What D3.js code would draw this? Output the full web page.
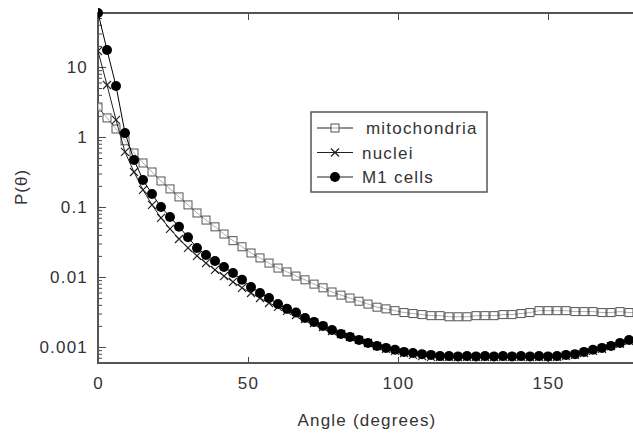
<!DOCTYPE html>
<html>
<head>
<meta charset="utf-8">
<script src="https://cdn.jsdelivr.net/npm/d3@7"></script>
<style>
  body { margin: 0; background: #fff; }
  svg text { font-family: "Liberation Sans", Arial, sans-serif; fill: #333; }
</style>
</head>
<body>
<svg id="chart" width="633" height="434"></svg>
<script>
// angles in degrees, one sample every 3 degrees
const angles = d3.range(0, 181, 3);

const mitochondria = [2.68, 1.87, 1.30, 0.88, 0.59, 0.425, 0.316, 0.235, 0.181, 0.139,
  0.107, 0.082, 0.065, 0.052, 0.041, 0.033, 0.027, 0.022, 0.0187, 0.0158,
  0.0134, 0.0118, 0.0103, 0.0091, 0.0079, 0.0070, 0.0061, 0.0055, 0.0050, 0.0045,
  0.0041, 0.0037, 0.0035, 0.0033, 0.0031, 0.0030, 0.0029, 0.0028, 0.0028, 0.0027,
  0.0027, 0.0027, 0.0028, 0.0028, 0.0028, 0.0029, 0.0029, 0.0030, 0.0031, 0.0033,
  0.0033, 0.0033, 0.0033, 0.0032, 0.0032, 0.0032, 0.0031, 0.0031, 0.0032, 0.0031, 0.0031];

const nuclei = [16.9, 5.53, 1.75, 0.611, 0.316, 0.175, 0.107, 0.0697, 0.0486, 0.0349,
  0.0260, 0.0200, 0.0158, 0.0126, 0.0103, 0.0085, 0.0070, 0.0059, 0.0050, 0.00425,
  0.00373, 0.00327, 0.00286, 0.00251, 0.00220, 0.00193, 0.00169, 0.00153, 0.00139, 0.00126,
  0.00114, 0.00103, 0.00094, 0.00088, 0.00082, 0.00077, 0.00074, 0.00072, 0.00072, 0.00072,
  0.00072, 0.00072, 0.00072, 0.00072, 0.00072, 0.00072, 0.00072, 0.00072, 0.00072, 0.00072,
  0.00072, 0.00072, 0.00074, 0.00077, 0.00082, 0.00088, 0.00094, 0.00103, 0.00111, 0.00122, 0.00136];

const m1cells = [59, 17.5, 5.35, 1.14, 0.47, 0.243, 0.153, 0.100, 0.072, 0.052,
  0.037, 0.026, 0.0206, 0.0169, 0.0139, 0.0114, 0.0091, 0.0072, 0.0059, 0.0050,
  0.0041, 0.0035, 0.0031, 0.0026, 0.00228, 0.0020, 0.00175, 0.00153, 0.00139, 0.00126,
  0.00114, 0.00103, 0.00097, 0.00091, 0.00085, 0.00082, 0.00079, 0.00077, 0.00074, 0.00074,
  0.00073, 0.00074, 0.00073, 0.00074, 0.00073, 0.00074, 0.00073, 0.00074, 0.00073, 0.00074,
  0.00073, 0.00074, 0.00077, 0.00079, 0.00085, 0.00091, 0.00097, 0.00103, 0.00114, 0.00126, 0.00139];

const seriesNames = ["mitochondria", "nuclei", "M1 cells"];
const xTicks = [0, 50, 100, 150];
const yTicks = [0.001, 0.01, 0.1, 1, 10];
const yTickLabels = ["0.001", "0.01", "0.1", "1", "10"];

const svg = d3.select("#chart");
const L = 98, R = 638, T = 13, B = 363;

const x = d3.scaleLinear().domain([0, 180]).range([L, R]);
const y = d3.scaleLog().domain([5.9e-4, 59]).range([B, T]);

// minor log ticks 2..9 per decade
const yMinor = [];
[1e-4, 1e-3, 1e-2, 1e-1, 1, 10].forEach(d => d3.range(2, 10).forEach(k => {
  const v = d * k;
  if (v >= 5.9e-4 && v <= 59) yMinor.push(v);
}));

svg.append("defs").append("clipPath").attr("id", "clip")
  .append("rect").attr("x", L).attr("y", T - 8).attr("width", R - L).attr("height", B - T + 8);

// axes, ticks inward
svg.append("g").attr("transform", `translate(${L},0)`)
  .call(d3.axisLeft(y).tickValues(yMinor).tickSize(-4).tickFormat("").tickSizeOuter(0))
  .call(g => g.select(".domain").remove())
  .call(g => g.selectAll("line").attr("stroke", "#444"));

const yAx = svg.append("g").attr("transform", `translate(${L},0)`)
  .call(d3.axisLeft(y).tickValues(yTicks).tickSize(-8).tickPadding(10).tickSizeOuter(0)
    .tickFormat((d, i) => yTickLabels[i]));
yAx.select(".domain").remove();
yAx.selectAll("line").attr("stroke", "#444");
yAx.selectAll("text").attr("font-size", 17).style("letter-spacing", "1.2px").attr("fill", "#333")
  .attr("font-family", null);

const xAx = svg.append("g").attr("transform", `translate(0,${B})`)
  .call(d3.axisBottom(x).tickValues(xTicks).tickSize(-6).tickPadding(14).tickSizeOuter(0));
xAx.select(".domain").remove();
xAx.selectAll("line").attr("stroke", "#444");
xAx.selectAll("text").attr("font-size", 17).style("letter-spacing", "1.2px").attr("fill", "#333")
  .attr("font-family", null);

const xTop = svg.append("g").attr("transform", `translate(0,${T})`)
  .call(d3.axisTop(x).tickValues(xTicks).tickSize(-7).tickFormat("").tickSizeOuter(0));
xTop.select(".domain").remove();
xTop.selectAll("line").attr("stroke", "#444");

// frame
svg.append("rect").attr("x", L).attr("y", T).attr("width", R - L).attr("height", B - T)
  .attr("fill", "none").attr("stroke", "#555").attr("stroke-width", 2);

// axis titles
svg.append("text").attr("x", 367).attr("y", 426).attr("text-anchor", "middle")
  .attr("font-size", 17).style("letter-spacing", "1.2px").text("Angle (degrees)");
svg.append("text").attr("transform", "translate(27,187) rotate(-90)").attr("text-anchor", "middle")
  .attr("font-size", 17).style("letter-spacing", "1px").text("P(θ)");

// series
const line = d3.line().x(d => x(d[0])).y(d => y(d[1]));
const plot = svg.append("g").attr("clip-path", "url(#clip)");

function pairs(vals) { return angles.map((a, i) => [a, vals[i]]); }

const mitoPts = pairs(mitochondria), nucPts = pairs(nuclei), m1Pts = pairs(m1cells);

function squareMark(g, s) {
  g.append("rect").attr("x", -s).attr("y", -s).attr("width", 2 * s).attr("height", 2 * s)
    .attr("fill", "#fff").attr("fill-opacity", 0.6).attr("stroke", "#555").attr("stroke-width", 1);
}
function crossMark(g, s) {
  g.append("path").attr("d", `M${-s},${-s}L${s},${s}M${-s},${s}L${s},${-s}`)
    .attr("stroke", "#222").attr("stroke-width", 1.2);
}
function dotMark(g, s) {
  g.append("circle").attr("r", s).attr("fill", "#000");
}

plot.append("path").datum(mitoPts).attr("d", line).attr("fill", "none").attr("stroke", "#333").attr("stroke-width", 1);
plot.selectAll(".mito").data(mitoPts).join("g").attr("class", "mito")
  .attr("transform", d => `translate(${x(d[0])},${y(d[1])})`).each(function() { squareMark(d3.select(this), 4); });

plot.append("path").datum(nucPts).attr("d", line).attr("fill", "none").attr("stroke", "#222").attr("stroke-width", 1);
plot.selectAll(".nuc").data(nucPts).join("g").attr("class", "nuc")
  .attr("transform", d => `translate(${x(d[0])},${y(d[1])})`).each(function() { crossMark(d3.select(this), 4); });

plot.append("path").datum(m1Pts).attr("d", line).attr("fill", "none").attr("stroke", "#000").attr("stroke-width", 1);
plot.selectAll(".m1").data(m1Pts).join("g").attr("class", "m1")
  .attr("transform", d => `translate(${x(d[0])},${y(d[1])})`).each(function() { dotMark(d3.select(this), 5); });

// legend
const leg = svg.append("g");
leg.append("rect").attr("x", 311).attr("y", 112).attr("width", 176).attr("height", 80)
  .attr("fill", "#fff").attr("stroke", "#555").attr("stroke-width", 1.5);
const marks = [squareMark, crossMark, dotMark];
const sizes = [4, 4, 5];
seriesNames.forEach((name, i) => {
  const yy = 128 + i * 24.5;
  leg.append("line").attr("x1", 317).attr("x2", 353).attr("y1", yy).attr("y2", yy)
    .attr("stroke", "#222").attr("stroke-width", 1);
  marks[i](leg.append("g").attr("transform", `translate(335,${yy})`), sizes[i]);
  leg.append("text").attr("x", i === 0 ? 366 : 362).attr("y", yy + 6)
    .attr("font-size", 17).style("letter-spacing", "1.2px").text(name);
});
</script>
</body>
</html>
